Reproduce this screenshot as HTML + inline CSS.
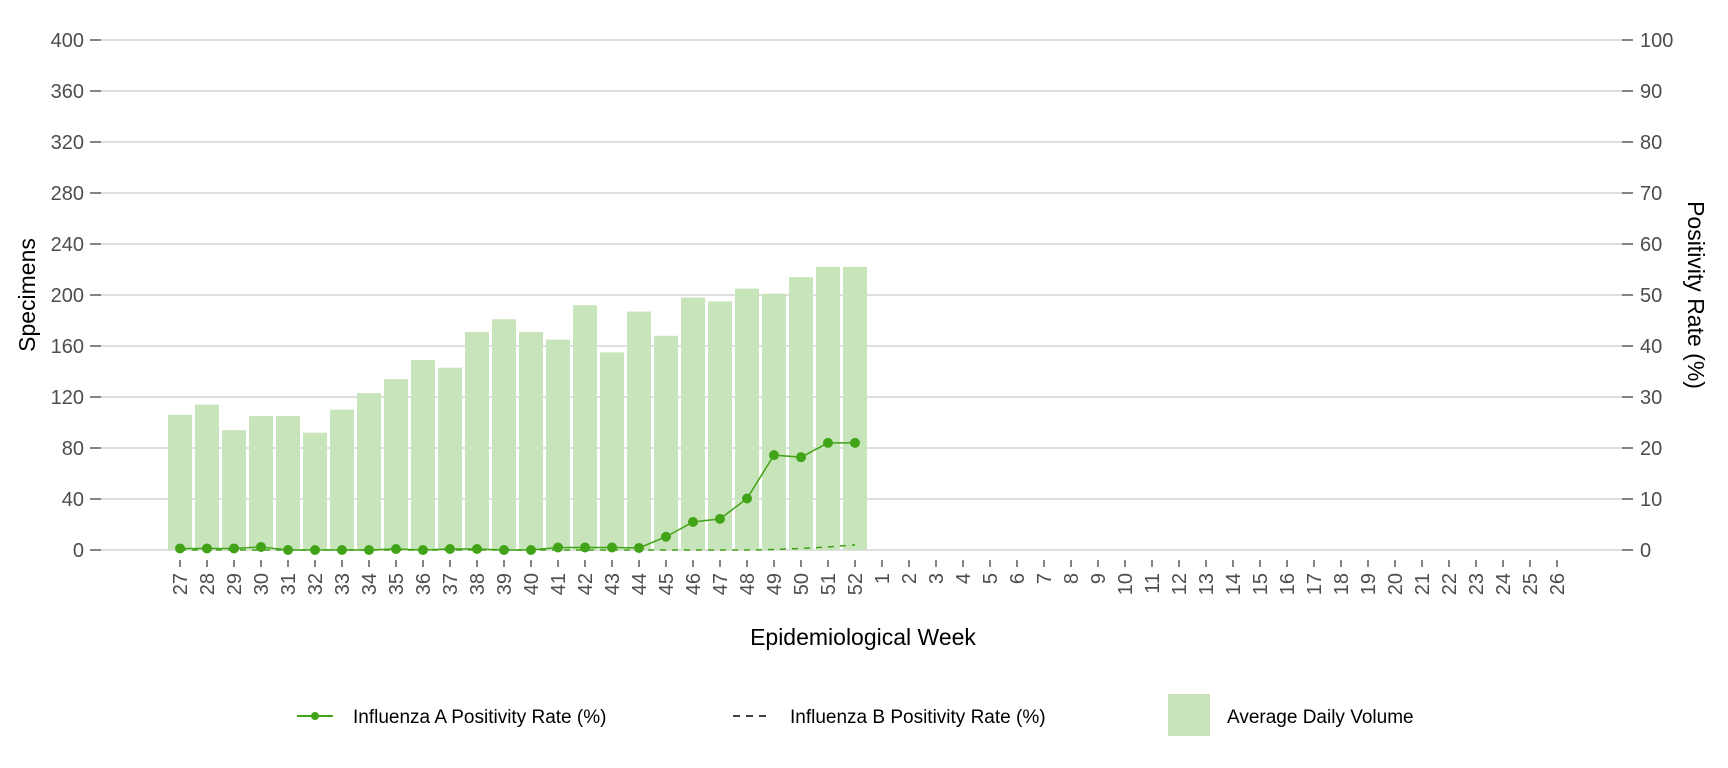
<!DOCTYPE html>
<html><head><meta charset="utf-8"><style>
html,body{margin:0;padding:0;background:#fff;}
svg{display:block;font-family:"Liberation Sans",Arial,sans-serif;}
</style></head><body>
<svg id="chart" width="1728" height="768" viewBox="0 0 1728 768">
<g id="grid"></g>
<g id="bars"></g>
<g id="lines"></g>
<g id="axes"></g>
<text transform="translate(35,295) rotate(-90)" text-anchor="middle" font-size="23" fill="#000">Specimens</text>
<text transform="translate(1688,295) rotate(90)" text-anchor="middle" font-size="23" fill="#000">Positivity Rate (%)</text>
<text x="863" y="645" text-anchor="middle" font-size="23" fill="#000">Epidemiological Week</text>
<g>
<g>
<line x1="297" y1="716" x2="333" y2="716" stroke="#41a317" stroke-width="2"/>
<circle cx="315" cy="716" r="4" fill="#41a317"/>
<text x="353" y="723" font-size="19" fill="#000">Influenza A Positivity Rate (%)</text></g>
<g>
<line x1="733" y1="716" x2="768" y2="716" stroke="#000" stroke-width="1.5" stroke-dasharray="7,6"/>
<text x="790" y="723" font-size="19" fill="#000">Influenza B Positivity Rate (%)</text></g>
<g>
<rect x="1168" y="694" width="42" height="42" fill="#c8e4bb"/>
<text x="1227" y="723" font-size="19" fill="#000">Average Daily Volume</text></g>
</g>
</svg>
<script>
const weeks = [27,28,29,30,31,32,33,34,35,36,37,38,39,40,41,42,43,44,45,46,47,48,49,50,51,52,1,2,3,4,5,6,7,8,9,10,11,12,13,14,15,16,17,18,19,20,21,22,23,24,25,26];
const volume = [106,114,94,105,105,92,110,123,134,149,143,171,181,171,165,192,155,187,168,198,195,205,201,214,222,222];
const fluA = [0.3,0.3,0.3,0.6,0,0,0,0,0.2,0,0.2,0.2,0,0,0.5,0.5,0.5,0.4,2.6,5.5,6.1,10.1,18.6,18.2,21,21];
const fluB = [0,0,0,0,0,0,0,0,0,0,0,0,0,0,0,0,0,0,0,0,0,0,0.1,0.3,0.6,1.0];
const leftTicks = [0,40,80,120,160,200,240,280,320,360,400];
const rightTicks = [0,10,20,30,40,50,60,70,80,90,100];

const NS="http://www.w3.org/2000/svg";
const y0=550, yTop=40, x0=180, step=27.0, bw=24;
function yL(v){return y0-(v/400)*(y0-yTop);}
function yR(v){return y0-(v/100)*(y0-yTop);}
function xW(i){return x0+i*step;}
function mk(tag,attrs,parent){const e=document.createElementNS(NS,tag);for(const k in attrs)e.setAttribute(k,attrs[k]);parent.appendChild(e);return e;}
const grid=document.getElementById('grid'),bars=document.getElementById('bars'),lines=document.getElementById('lines'),axes=document.getElementById('axes');
leftTicks.forEach((t,i)=>{
  const y=yL(t);
  const g=mk('line',{x1:101,x2:1622,y1:y,y2:y,stroke:'#cccccc','stroke-width':1.3},grid);
  
  
  mk('line',{x1:90,x2:101,y1:y,y2:y,stroke:'#333','stroke-width':1.2},axes);
  const tl=mk('text',{x:84,y:y+7,'text-anchor':'end','font-size':20,fill:'#4d4d4d'},axes);
  tl.textContent=t;
  
  
  const r=rightTicks[i], yr=yR(r);
  mk('line',{x1:1622,x2:1633,y1:yr,y2:yr,stroke:'#333','stroke-width':1.2},axes);
  const tr=mk('text',{x:1640,y:yr+7,'font-size':20,fill:'#4d4d4d'},axes);
  tr.textContent=r;
  
  
});
volume.forEach((v,i)=>{
  const r=mk('rect',{x:xW(i)-bw/2,y:yL(v),width:bw,height:y0-yL(v),fill:'#c8e4bb'},bars);
  
  
});
weeks.forEach((w,i)=>{
  const x=xW(i);
  mk('line',{x1:x,x2:x,y1:560,y2:567,stroke:'#333','stroke-width':1.2},axes);
  const t=mk('text',{transform:'translate('+(x+7)+',573) rotate(-90)','text-anchor':'end','font-size':20,fill:'#4d4d4d'},axes);
  t.textContent=w;
  
  
});
const pb=mk('polyline',{points:fluB.map((v,i)=>xW(i)+','+yR(v)).join(' '),fill:'none',stroke:'#41a317','stroke-width':1.5,'stroke-dasharray':'6,6'},lines);


const pa=mk('polyline',{points:fluA.map((v,i)=>xW(i)+','+yR(v)).join(' '),fill:'none',stroke:'#41a317','stroke-width':1.5},lines);


fluA.forEach((v,i)=>{
  const c=mk('circle',{cx:xW(i),cy:yR(v),r:5,fill:'#41a317'},lines);
  
  
});
</script>
</body></html>
